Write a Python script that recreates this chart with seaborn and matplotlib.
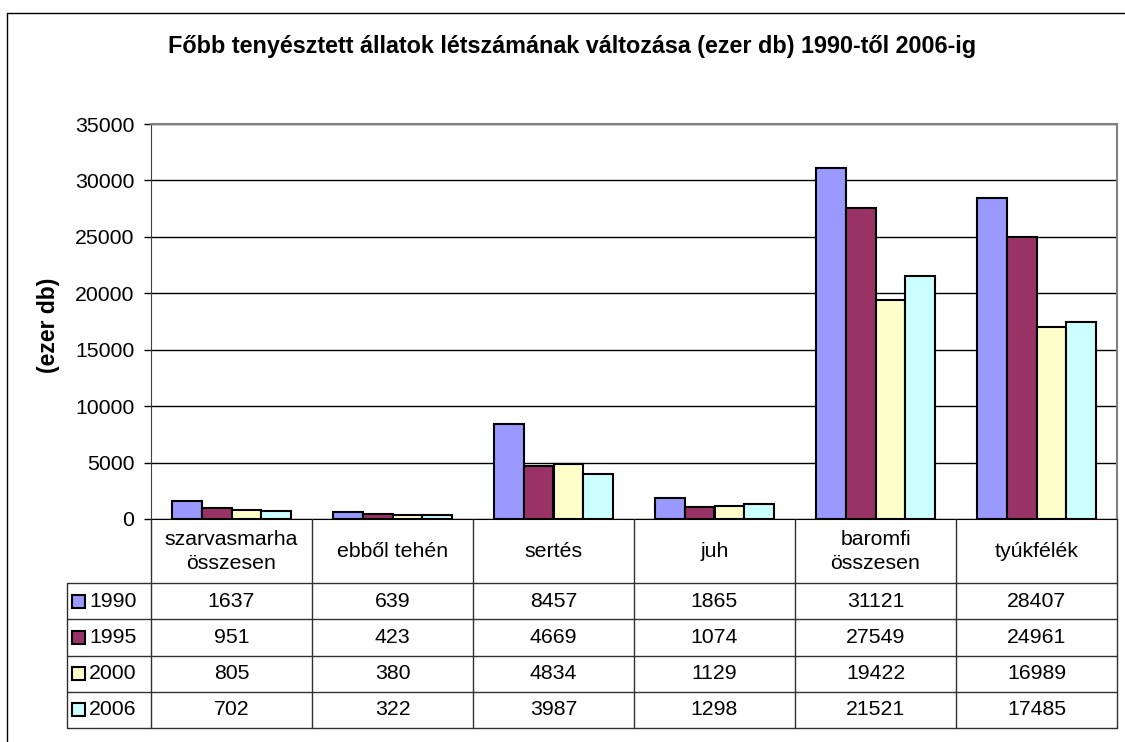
import matplotlib
matplotlib.use('Agg')
import matplotlib.pyplot as plt
import seaborn as sns
import pandas as pd
from matplotlib.lines import Line2D
from matplotlib.patches import Rectangle

categories = ['szarvasmarha\nösszesen', 'ebből tehén', 'sertés', 'juh', 'baromfi\nösszesen', 'tyúkfélék']
years = ['1990', '1995', '2000', '2006']
v1990 = [1637, 639, 8457, 1865, 31121, 28407]
v1995 = [951, 423, 4669, 1074, 27549, 24961]
v2000 = [805, 380, 4834, 1129, 19422, 16989]
v2006 = [702, 322, 3987, 1298, 21521, 17485]
colors = ['#9999FF', '#993366', '#FFFFCC', '#CCFFFF']

series = [v1990, v1995, v2000, v2006]
rows = []
for ev, vals in zip(years, series):
    for kat, v in zip(categories, vals):
        rows.append({'kat': kat, 'ev': ev, 'ertek': v})
df = pd.DataFrame(rows)

sns.set_style('white')
plt.rcParams['font.family'] = ['Liberation Sans', 'DejaVu Sans']
plt.rcParams['text.color'] = 'black'
plt.rcParams['ytick.color'] = 'black'

W, H = 1125, 742
fs = 15.3
fig = plt.figure(figsize=(W / 100, H / 100), dpi=100)


def box(x0, y0, x1, y1):
    # pixel box (top-left origin) -> figure fraction
    return [x0 / W, 1 - y1 / H, (x1 - x0) / W, (y1 - y0) / H]


# outer chart frame
fig.add_artist(Line2D([7 / W, 7 / W], [0, 1 - 13 / H], color='black', lw=1))
fig.add_artist(Line2D([7 / W, 1], [1 - 13 / H, 1 - 13 / H], color='black', lw=1))

ax = fig.add_axes(box(151, 124, 1117, 519))
sns.barplot(data=df, x='kat', y='ertek', hue='ev', order=categories, hue_order=years,
            palette=colors, saturation=1, width=0.74, gap=0, edgecolor='black',
            linewidth=1.5, legend=False, ax=ax, zorder=3)
ax.set_xlim(-0.5, 5.5)
ax.set_ylim(0, 35000)
ax.set_yticks(range(0, 35001, 5000))
ax.set_xticks([])
ax.set_xlabel('')
ax.set_ylabel('')
ax.yaxis.grid(True, color='black', lw=1)
ax.set_axisbelow(True)
for s in ['top', 'right']:
    ax.spines[s].set_color('#808080')
    ax.spines[s].set_linewidth(1.5)
ax.spines['left'].set_color('#404040')
ax.spines['bottom'].set_color('black')
ax.tick_params(axis='y', left=True, direction='out', length=5, width=1, color='black',
               labelsize=fs, pad=7)

fig.text(48 / W, 1 - 325 / H, '(ezer db)', rotation=90, ha='center', va='center',
         fontsize=16.5, fontweight='bold')
fig.text(572 / W, 1 - 47 / H,
         'Főbb tenyésztett állatok létszámának változása (ezer db) 1990-től 2006-ig',
         ha='center', va='center', fontsize=16.8, fontweight='bold')

# data table under the axis
h0 = 64 / 36
leg = 84 / 161
tab = fig.add_axes(box(67, 519, 1117, 728))
tab.axis('off')
tab.set_xlim(-0.5 - leg, 5.5)
tab.set_ylim(h0 + len(years), 0)
lc = '#303030'
for r in range(len(years) + 1):
    tab.plot([-0.5 - leg, 5.5], [h0 + r, h0 + r], color=lc, lw=1, clip_on=False)
for i in range(len(categories) + 1):
    tab.plot([i - 0.5, i - 0.5], [0, h0 + len(years)], color=lc, lw=1, clip_on=False)
tab.plot([-0.5 - leg] * 2, [h0, h0 + len(years)], color=lc, lw=1, clip_on=False)

for i, kat in enumerate(categories):
    tab.text(i, h0 / 2, kat, ha='center', va='center', fontsize=fs, linespacing=1.35)
for r, (ev, vals, col) in enumerate(zip(years, series, colors)):
    yc = h0 + r + 0.5
    tab.add_patch(Rectangle((-0.5 - leg + 5 / 161, yc - 6.5 / 36), 13 / 161, 13 / 36,
                            facecolor=col, edgecolor='black', lw=1.5, clip_on=False))
    tab.text(-0.5 - leg + 22 / 161, yc, ev, ha='left', va='center', fontsize=fs)
    for i, v in enumerate(vals):
        tab.text(i, yc, str(v), ha='center', va='center', fontsize=fs)

fig.savefig('out.png', dpi=100)
